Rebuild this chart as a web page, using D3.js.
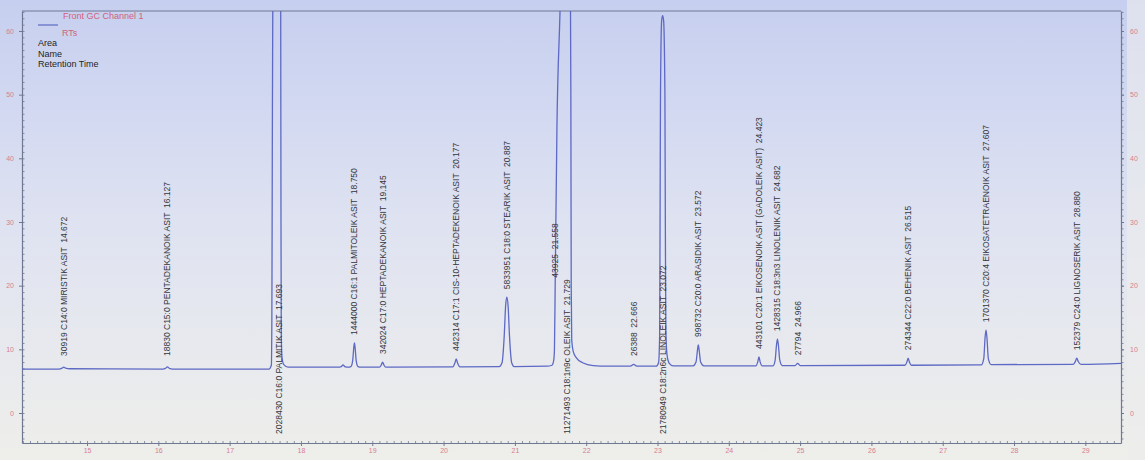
<!DOCTYPE html>
<html>
<head>
<meta charset="utf-8">
<script src="https://cdn.jsdelivr.net/npm/d3@7"></script>
<style>
  html, body { margin: 0; padding: 0; background: #e8e9ea; }
  svg { display: block; }
  .peak-label { white-space: pre; }
</style>
</head>
<body>
<svg id="chart" width="1145" height="460"></svg>
<script>
// ---- data -------------------------------------------------------------
const channelName = "Front GC Channel 1";
const seriesName = "RTs";
const legendFields = ["Area", "Name", "Retention Time"];

const xTickValues = [15, 16, 17, 18, 19, 20, 21, 22, 23, 24, 25, 26, 27, 28, 29];
const yTickValues = [0, 10, 20, 30, 40, 50, 60];

// detector signal, [retention time (min), response]
const trace = [
  [14.088, 6.9],
  [14.60, 6.9], [14.65, 7.05], [14.672, 7.2], [14.70, 7.05], [14.76, 6.95],
  [16.06, 6.9], [16.10, 7.0], [16.127, 7.25], [16.155, 7.0], [16.20, 6.9],
  [17.55, 6.9], [17.585, 7.5], [17.592, 15], [17.598, 40], [17.605, 64], [17.65, 90], [17.693, 100],
  [17.71, 90], [17.716, 64], [17.72, 30], [17.724, 12], [17.735, 8.6], [17.76, 7.6], [17.82, 7.2],
  [18.52, 7.2], [18.565, 7.3], [18.59, 7.55], [18.615, 7.3], [18.66, 7.2],
  [18.70, 7.3], [18.725, 8.2], [18.74, 10.2], [18.75, 11.0], [18.76, 10.2], [18.775, 8.2], [18.80, 7.3], [18.84, 7.2],
  [19.10, 7.2], [19.125, 7.5], [19.145, 8.0], [19.165, 7.5], [19.19, 7.2],
  [20.13, 7.25], [20.16, 7.9], [20.177, 8.5], [20.195, 7.9], [20.23, 7.25],
  [20.78, 7.3], [20.82, 7.9], [20.85, 12], [20.87, 16.8], [20.887, 18.2], [20.905, 16.8], [20.925, 12], [20.955, 7.9], [20.99, 7.3],
  [21.45, 7.35], [21.52, 7.5], [21.545, 8.3], [21.555, 10], [21.565, 20], [21.59, 45], [21.635, 64], [21.68, 90], [21.729, 100],
  [21.77, 90], [21.785, 50], [21.79, 20], [21.797, 11.5], [21.82, 9.6], [21.86, 8.7], [21.95, 7.9], [22.1, 7.45], [22.3, 7.35],
  [22.62, 7.35], [22.666, 7.65], [22.71, 7.35],
  [22.98, 7.35], [23.015, 7.9], [23.03, 12], [23.036, 30], [23.042, 50], [23.058, 61.6], [23.072, 62.4],
  [23.086, 61.6], [23.104, 50], [23.11, 30], [23.117, 13], [23.135, 9], [23.165, 7.8], [23.22, 7.4],
  [23.50, 7.4], [23.54, 8.0], [23.56, 9.8], [23.572, 10.7], [23.585, 9.8], [23.605, 8.0], [23.65, 7.4],
  [24.38, 7.4], [24.405, 8.0], [24.423, 8.8], [24.44, 8.0], [24.47, 7.4],
  [24.62, 7.4], [24.65, 8.3], [24.668, 10.6], [24.682, 11.6], [24.696, 10.6], [24.715, 8.3], [24.75, 7.45],
  [24.93, 7.45], [24.966, 7.8], [25.0, 7.45],
  [26.47, 7.5], [26.497, 8.0], [26.515, 8.6], [26.533, 8.0], [26.56, 7.5],
  [27.54, 7.55], [27.575, 8.5], [27.595, 12.0], [27.607, 13.0], [27.619, 12.0], [27.64, 8.5], [27.68, 7.6],
  [28.83, 7.65], [28.86, 8.1], [28.88, 8.6], [28.90, 8.1], [28.94, 7.65],
  [29.50, 7.8]
];

// integrated peaks
const peakArea = [30919, 18830, 2028430, 1444000, 342024, 442314, 5833951, 43925, 11271493,
                  26388, 21780949, 998732, 443101, 1428315, 27794, 274344, 1701370, 152379];
const peakName = [
  "C14:0 MIRISTIK ASIT",
  "C15:0 PENTADEKANOIK ASIT",
  "C16:0 PALMITIK ASIT",
  "C16:1 PALMITOLEIK ASIT",
  "C17:0 HEPTADEKANOIK ASIT",
  "C17:1 CIS-10-HEPTADEKENOIK ASIT",
  "C18:0 STEARIK ASIT",
  "",
  "C18:1n9c OLEIK ASIT",
  "",
  "C18:2n6c LINOLEIK ASIT",
  "C20:0 ARASIDIK ASIT",
  "C20:1 EIKOSENOIK ASIT (GADOLEIK ASIT)",
  "C18:3n3 LINOLENIK ASIT",
  "",
  "C22:0 BEHENIK ASIT",
  "C20:4 EIKOSATETRAENOIK ASIT",
  "C24:0 LIGNOSERIK ASIT"
];
const peakTime = [14.672, 16.127, 17.693, 18.750, 19.145, 20.177, 20.887, 21.558, 21.729,
                  22.666, 23.072, 23.572, 24.423, 24.682, 24.966, 26.515, 27.607, 28.880];

// ---- layout -----------------------------------------------------------
const W = 1145, H = 460;
const plot = { left: 22, right: 1121, top: 11, bottom: 443 };

const x = d3.scaleLinear().domain([14.088, 29.50]).range([plot.left, plot.right]);
const y = d3.scaleLinear().domain([-4.71, 63.14]).range([plot.bottom, plot.top]);

const svg = d3.select("#chart");
const defs = svg.append("defs");

// screen background: bluish at the top, fading to a pale grey at the bottom
const bg = defs.append("linearGradient").attr("id", "screen")
  .attr("gradientUnits", "userSpaceOnUse")
  .attr("x1", 0).attr("y1", 0).attr("x2", 0).attr("y2", H);
bg.append("stop").attr("offset", "0%").attr("stop-color", "#c6cfef");
bg.append("stop").attr("offset", "25%").attr("stop-color", "#d3d9f1");
bg.append("stop").attr("offset", "50%").attr("stop-color", "#dfe3f1");
bg.append("stop").attr("offset", "70%").attr("stop-color", "#e6e8ef");
bg.append("stop").attr("offset", "100%").attr("stop-color", "#eeeeea");

defs.append("clipPath").attr("id", "plot-clip").append("rect")
  .attr("x", plot.left).attr("y", plot.top)
  .attr("width", plot.right - plot.left).attr("height", plot.bottom - plot.top);

svg.append("rect").attr("width", W).attr("height", H).attr("fill", "url(#screen)");
svg.append("rect").attr("x", plot.right + 6).attr("y", 0).attr("width", W - plot.right - 6).attr("height", H)
  .attr("fill", "#eceded").attr("opacity", 0.6);

// frame
const frameColor = "#6f7893";
svg.append("line").attr("x1", plot.left).attr("x2", plot.right).attr("y1", plot.top).attr("y2", plot.top)
  .attr("stroke", frameColor).attr("stroke-width", 1);

// x axis: minor ticks every 0.1 min, labelled ticks every minute
const xAxis = svg.append("g").attr("transform", `translate(0,${plot.bottom})`);
xAxis.call(d3.axisBottom(x).tickValues(d3.range(14.1, 29.51, 0.1)).tickSize(-2).tickSizeOuter(0).tickFormat(""))
  .call(g => g.selectAll(".tick line").attr("stroke", frameColor).attr("stroke-width", 0.8));
xAxis.select(".domain").attr("stroke", frameColor).attr("stroke-width", 1.2);
const xMajor = svg.append("g").attr("transform", `translate(0,${plot.bottom})`)
  .call(d3.axisBottom(x).tickValues(xTickValues).tickSize(3).tickFormat(d3.format("d")));
xMajor.select(".domain").remove();
xMajor.selectAll(".tick line").attr("stroke", frameColor);
xMajor.selectAll(".tick text").attr("fill", "#d77f90").attr("font-size", 7)
  .attr("font-family", "Liberation Sans, Arial, sans-serif").attr("dy", "0.55em");

// left axis
const yMinor = d3.range(-4, 63.1, 1);
const yLeft = svg.append("g").attr("transform", `translate(${plot.left},0)`)
  .call(d3.axisLeft(y).tickValues(yMinor).tickSize(-2.5).tickSizeOuter(0).tickFormat(""));
yLeft.select(".domain").attr("stroke", frameColor).attr("stroke-width", 1.2);
yLeft.selectAll(".tick line").attr("stroke", frameColor).attr("stroke-width", 0.8);
const yLeftMajor = svg.append("g").attr("transform", `translate(${plot.left},0)`)
  .call(d3.axisLeft(y).tickValues(yTickValues).tickSize(3).tickPadding(5).tickFormat(d3.format("d")));
yLeftMajor.select(".domain").remove();
yLeftMajor.selectAll(".tick line").attr("stroke", frameColor);
yLeftMajor.selectAll(".tick text").attr("fill", "#d77f90").attr("font-size", 7)
  .attr("font-family", "Liberation Sans, Arial, sans-serif");

// right axis
const yRight = svg.append("g").attr("transform", `translate(${plot.right},0)`)
  .call(d3.axisRight(y).tickValues(yMinor).tickSize(2.5).tickSizeOuter(0).tickFormat(""));
yRight.select(".domain").attr("stroke", frameColor).attr("stroke-width", 1.2);
yRight.selectAll(".tick line").attr("stroke", frameColor).attr("stroke-width", 0.8);
const yRightMajor = svg.append("g").attr("transform", `translate(${plot.right},0)`)
  .call(d3.axisRight(y).tickValues(yTickValues).tickSize(3).tickPadding(6).tickFormat(d3.format("d")));
yRightMajor.select(".domain").remove();
yRightMajor.selectAll(".tick line").attr("stroke", frameColor);
yRightMajor.selectAll(".tick text").attr("fill", "#d77f90").attr("font-size", 7)
  .attr("font-family", "Liberation Sans, Arial, sans-serif");

// ---- signal -----------------------------------------------------------
const traceColor = "#5d69c4";
const plotArea = svg.append("g").attr("clip-path", "url(#plot-clip)");

plotArea.append("path")
  .datum(trace)
  .style("fill", "none")
  .attr("stroke", traceColor).attr("stroke-width", 1.3)
  .attr("stroke-linejoin", "round")
  .attr("d", d3.line().x(d => x(d[0])).y(d => y(d[1])).curve(d3.curveMonotoneX));

// ---- peak annotations -------------------------------------------------
const peaks = peakTime.map((t, i) => {
  const near = trace.filter(d => Math.abs(d[0] - t) <= 0.012);
  const apex = d3.max(near, d => d[1]);
  const text = peakName[i]
    ? `${peakArea[i]} ${peakName[i]}  ${t.toFixed(3)}`
    : `${peakArea[i]}  ${t.toFixed(3)}`;
  return { t, apex, text };
});

svg.append("g").selectAll("text")
  .data(peaks)
  .join("text")
  .attr("class", "peak-label")
  .attr("transform", d => {
    const y0 = d.apex > 40 ? 434 : Math.min(y(d.apex) - 8, 356);
    return `translate(${x(d.t)},${y0}) rotate(-90)`;
  })
  .attr("dy", "0.35em")
  .attr("font-family", "Liberation Sans, Arial, sans-serif")
  .attr("font-size", 8.5)
  .attr("fill", "#34353c")
  .text(d => d.text);

// ---- legend -----------------------------------------------------------
const legend = svg.append("g").attr("font-family", "Liberation Sans, Arial, sans-serif").attr("font-size", 9);
legend.append("text").attr("x", 63).attr("y", 19).attr("fill", "#d0627c").text(channelName);
legend.append("line").attr("x1", 38).attr("x2", 58).attr("y1", 25).attr("y2", 25)
  .attr("stroke", traceColor).attr("stroke-width", 1.2);
legend.append("text").attr("x", 62).attr("y", 36).attr("fill", "#d0627c").text(seriesName);
legend.selectAll("text.field")
  .data(legendFields)
  .join("text")
  .attr("class", "field")
  .attr("x", 38)
  .attr("y", (d, i) => 46 + i * 10.5)
  .attr("fill", "#1e1f26")
  .text(d => d);
</script>
</body>
</html>
